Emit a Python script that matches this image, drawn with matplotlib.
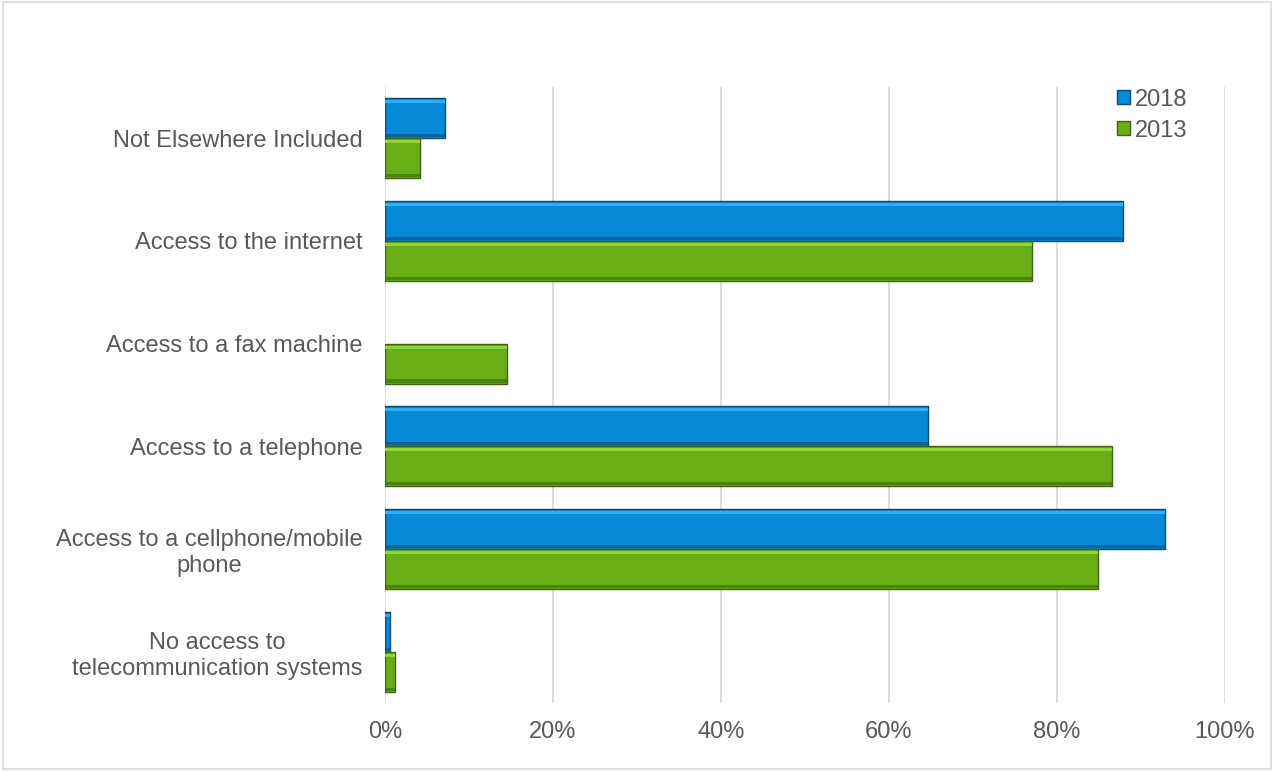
import matplotlib
matplotlib.use("Agg")
import matplotlib.pyplot as plt
import numpy as np
from matplotlib.patches import Rectangle

plt.rcParams.update({"font.family": ["Liberation Sans", "DejaVu Sans"], "font.size": 17})

# categories bottom -> top
categories = ["No access to\ntelecommunication systems",
              "Access to a cellphone/mobile\nphone",
              "Access to a telephone",
              "Access to a fax machine",
              "Access to the internet",
              "Not Elsewhere Included"]
y2018 = [0.6, 92.9, 64.6, 0.0, 87.9, 7.1]
y2013 = [1.2, 84.9, 86.6, 14.5, 77.0, 4.2]
ticks = [0, 20, 40, 60, 80, 100]
tick_labels = ["0%", "20%", "40%", "60%", "80%", "100%"]

grey = "#595959"
blue, blue_hi, blue_dk = "#0689D6", "#2FAEF0", "#0B4B73"
green, green_hi, green_dk = "#68AF15", "#8FD43A", "#3E650E"

fig = plt.figure(figsize=(12.74, 7.71), dpi=100)
fig.patches.append(Rectangle((0.002, 0.002), 0.996, 0.996, transform=fig.transFigure,
                             fill=False, edgecolor="#D9D9D9", lw=1.2))
ax = fig.add_axes([0.3022, 0.0882, 0.6593, 0.7993])

y = np.arange(len(categories))
h = 0.39
hb = 0.05
for vals, off, c, chi, cdk, lab in [(y2018, h / 2, blue, blue_hi, blue_dk, "2018"),
                                    (y2013, -h / 2, green, green_hi, green_dk, "2013")]:
    lw = [1.0 if v > 0 else 0 for v in vals]
    ax.barh(y + off, vals, h, color=c, edgecolor=cdk, linewidth=lw, label=lab, zorder=3)
    # bevel: light strip on top, dark strip at bottom
    ax.barh(y + off + h / 2 - hb / 2 - 0.01, vals, hb * 0.6, color=chi, linewidth=0, zorder=4)
    ax.barh(y + off - h / 2 + hb / 2, vals, hb * 0.6, color=cdk, alpha=0.6, linewidth=0, zorder=4)

ax.set_xlim(0, 100)
ax.set_ylim(-0.5, len(categories) - 0.5)
ax.set_xticks(ticks)
ax.set_xticklabels(tick_labels)
ax.set_yticks(y)
ax.set_yticklabels(categories, multialignment="center")
ax.tick_params(length=0, colors=grey, labelsize=17)
ax.tick_params(axis="y", pad=16)
ax.tick_params(axis="x", pad=13)
ax.grid(axis="x", color="#D9D9D9", lw=1.3, zorder=0)
for s in ax.spines.values():
    s.set_visible(False)

leg = ax.legend(loc="upper left", bbox_to_anchor=(0.872, 0.997), frameon=False, fontsize=17,
                handlelength=0.55, handleheight=0.55, handletextpad=0.2, labelspacing=0.38,
                labelcolor=grey, borderaxespad=0, borderpad=0)

fig.savefig("out.png", dpi=100)
